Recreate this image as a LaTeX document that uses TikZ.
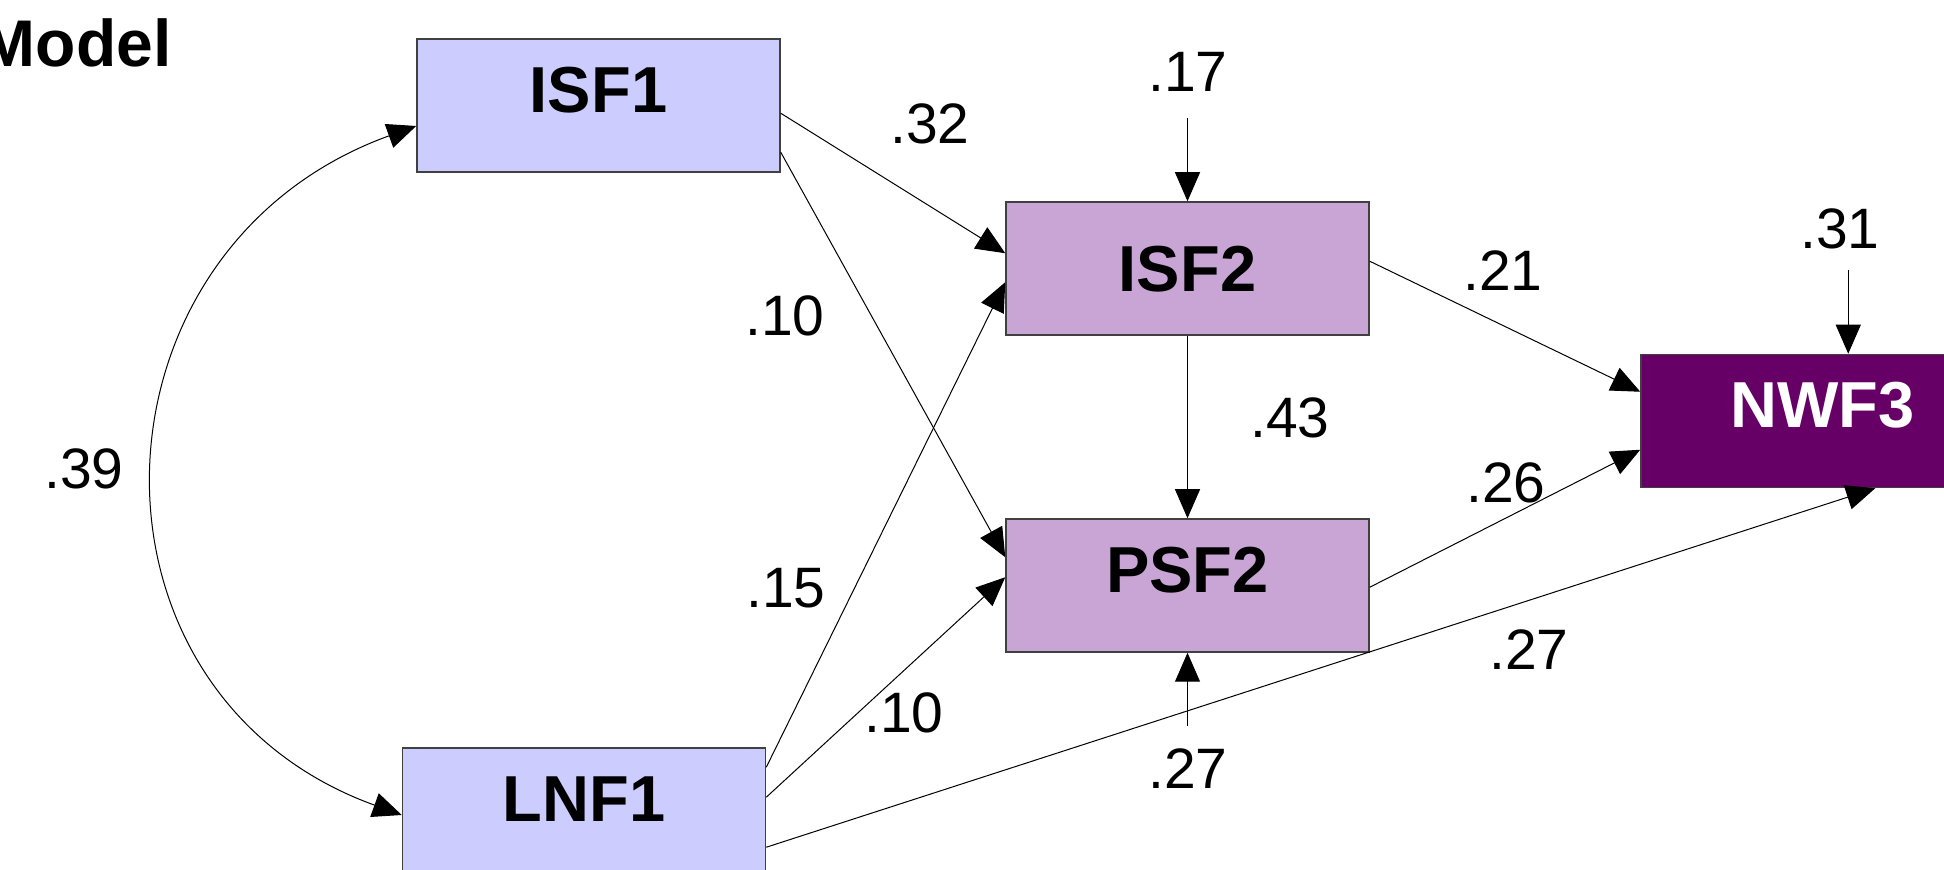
\documentclass[tikz,border=0pt]{standalone}
\usepackage{fontspec}
\setmainfont{Liberation Sans}
\usetikzlibrary{arrows.meta,calc}
\definecolor{lav}{RGB}{204,204,255}
\definecolor{lilac}{RGB}{201,165,214}
\definecolor{plum}{RGB}{102,0,102}

\begin{document}
\begin{tikzpicture}[x=.5pt,y=-.5pt,
		box/.style={draw=black!75,line width=.75pt,minimum width=181.5pt,minimum height=66.5pt,inner sep=0pt,
			font=\fontsize{32.5}{39}\selectfont\bfseries,text height=23.3pt,text depth=16.5pt},
		lvl1/.style={box,fill=lav},
		lvl2/.style={box,fill=lilac},
		lvl3/.style={box,fill=plum,text=white},
		coef/.style={font=\fontsize{28.5}{34}\selectfont,inner sep=0pt},
		eff/.style={-{Triangle[length=14.5pt,width=12.5pt]},line width=.5pt},
		cov/.style={{Triangle[length=14.5pt,width=12.5pt]}-{Triangle[length=14.5pt,width=12.5pt]},line width=.5pt}]
			\useasboundingbox (0,0) rectangle (1944,870);
			\node[font=\fontsize{33}{40}\selectfont\bfseries,anchor=base east,inner sep=0pt] (title) at (172,67) {Model};
			
			\node[lvl1] (isf1) at (598.5,105.5) {ISF1};
			\node[lvl1] (lnf1) at (584,814.5) {LNF1};
			\node[lvl2,text depth=0pt] (isf2) at (1187.5,268.5) {ISF2};
			\node[lvl2] (psf2) at (1187.5,585.5) {PSF2};
			\node[lvl3] (nwf3) at (1822.5,421) {NWF3};
			
			% residuals
			\coordinate (e1) at (1187.5,118); \node[coef] (e1l) at (1188,72) {.17}; \draw[eff] (e1) -- (isf2.north);
			\coordinate (e2) at (1187.5,726); \node[coef] (e2l) at (1188,769) {.27}; \draw[eff] (e2) -- (psf2.south);
			\coordinate (e3) at ($(nwf3.north west)+(208,-84)$); \node[coef] (e3l) at (1840,229) {.31}; \draw[eff] (e3) -- ($(nwf3.north west)+(208,0)$);
			
			\draw[cov] (isf1.west |- 417,126) .. controls (79,248) and (65,693) .. (lnf1.west |- 403,815); \node[coef] (c1) at (84,469) {.39};
			
			\draw[eff] ($(isf1.north east)+(0,75)$) -- ($(isf2.north west)+(0,52)$); \node[coef] (p1) at (930,124) {.32};
			\draw[eff] ($(isf1.north east)+(0,114)$) -- ($(psf2.north west)+(0,39)$); \node[coef] (p2) at (785,316) {.10};
			\draw[eff] ($(lnf1.north east)+(0,20)$) -- ($(isf2.north west)+(0,81)$); \node[coef] (p3) at (786,588) {.15};
			\draw[eff] ($(lnf1.north east)+(0,50)$) -- ($(psf2.north west)+(0,59)$); \node[coef] (p4) at (904,713) {.10};
			\draw[eff] ($(lnf1.north east)+(0,100)$) -- ($(nwf3.south west)+(235,0)$); \node[coef] (p5) at (1529,650) {.27};
			\draw[eff] (isf2.south) -- (psf2.north); \node[coef] (p6) at (1290,418) {.43};
			\draw[eff] ($(isf2.north east)+(0,60)$) -- ($(nwf3.north west)+(0,38)$); \node[coef] (p7) at (1503,271) {.21};
			\draw[eff] ($(psf2.north east)+(0,69)$) -- ($(nwf3.north west)+(0,96)$); \node[coef] (p8) at (1506,483) {.26};
			\end{tikzpicture}
\end{document}
